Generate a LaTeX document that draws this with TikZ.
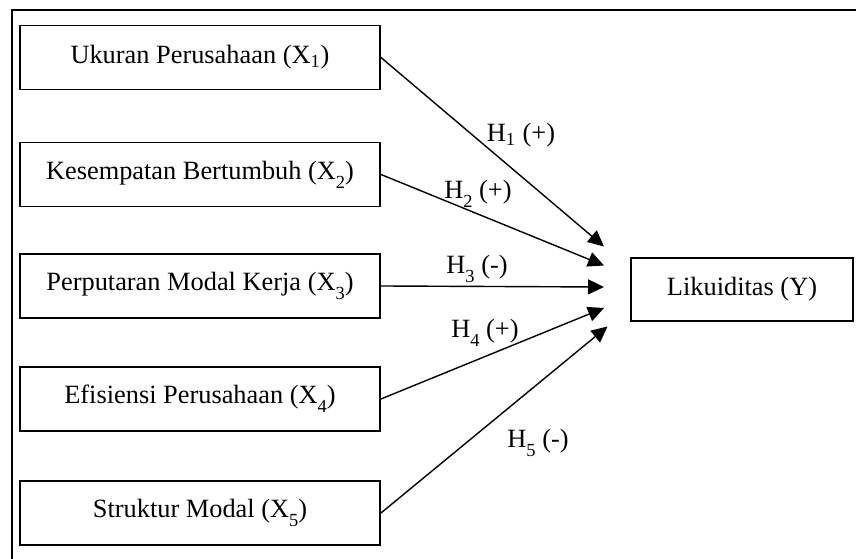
\documentclass[tikz,border=0pt]{standalone}
\usepackage{fontspec}
\setmainfont{Liberation Serif}
\usetikzlibrary{arrows.meta,positioning}
\newcommand{\lowsub}[1]{\raisebox{-0.75ex}{\fontsize{10.5}{12}\selectfont #1}}

\begin{document}
\begin{tikzpicture}[font=\fontsize{15}{18}\selectfont,
  var/.style={draw,line width=1.1pt,minimum width=7.2cm,minimum height=1.28cm,
              inner sep=1pt},
  dep/.style={var,minimum width=4.45cm,minimum height=1.26cm},
  hyp/.style={-{Triangle[length=0.32cm,width=0.3cm]},line width=0.8pt},
]
\useasboundingbox (0,0) rectangle (17.12,11.18);
\draw[line width=1.1pt] (17.12,10.98) -- (0.24,10.98) -- (0.24,0);

% independent variables
\node[var] (x1) at (4.0,10.03) {Ukuran Perusahaan (X\textsubscript{1})};
\node[var] (x2) at (4.0,7.69) {Kesempatan Bertumbuh (X\lowsub{2})};
\node[var] (x3) at (4.0,5.46) {Perputaran Modal Kerja (X\lowsub{3})};
\node[var] (x4) at (4.0,3.20) {Efisiensi Perusahaan (X\lowsub{4})};
\node[var] (x5) at (4.0,0.92) {Struktur Modal (X\lowsub{5})};

% dependent variable
\node[dep] (y) at (14.84,5.39) {Likuiditas (Y)};

% arrow tips stop short of Y
\coordinate (t1) at (12.08,6.25);
\coordinate (t2) at (12.08,5.87);
\coordinate (t3) at (12.08,5.44);
\coordinate (t4) at (12.08,5.02);
\coordinate (t5) at (12.15,4.65);

\draw[hyp] (x1.east) -- (t1);
\draw[hyp] (x2.east) -- (t2);
\draw[hyp] (x3.east) -- (t3);
\draw[hyp] (x4.east) -- (t4);
\draw[hyp] (x5.east) -- (t5);

\node (h1) at (10.42,8.48) {H\textsubscript{1} (+)};
\node (h2) at (9.56,7.30) {H\lowsub{2} (+)};
\node (h3) at (9.54,5.80) {H\lowsub{3} (-)};
\node (h4) at (9.70,4.52) {H\lowsub{4} (+)};
\node (h5) at (10.76,2.32) {H\lowsub{5} (-)};
\end{tikzpicture}
\end{document}
